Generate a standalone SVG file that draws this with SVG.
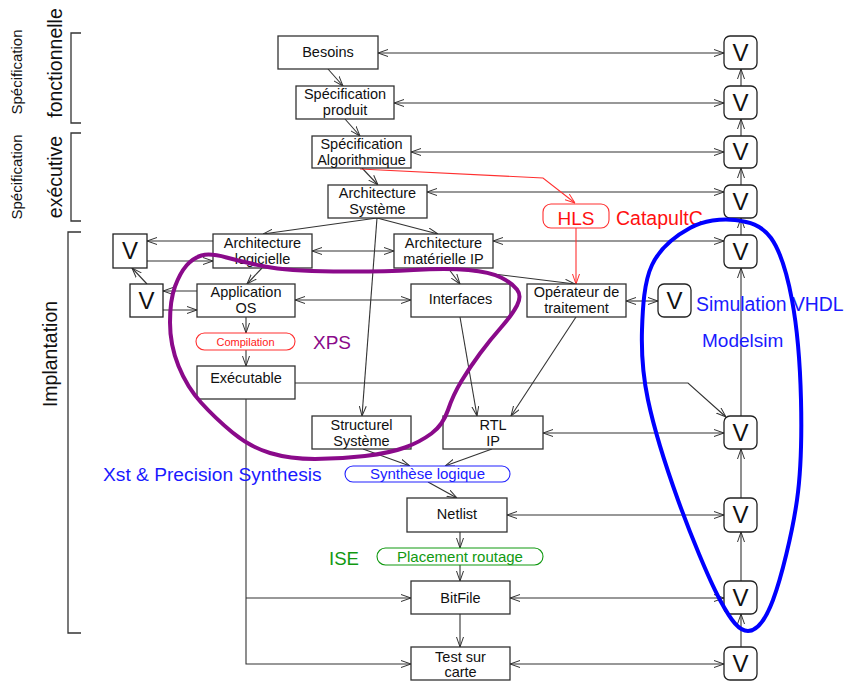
<svg xmlns="http://www.w3.org/2000/svg" width="844" height="682" viewBox="0 0 844 682">
<defs>
<marker id="ah" viewBox="0 0 10 8" refX="10" refY="4" markerWidth="10" markerHeight="8" markerUnits="userSpaceOnUse" orient="auto-start-reverse">
<path d="M0,0.5 L10,4 L0,7.5" fill="none" stroke="#333" stroke-width="1"/>
</marker>
<marker id="ahr" viewBox="0 0 10 8" refX="10" refY="4" markerWidth="10" markerHeight="8" markerUnits="userSpaceOnUse" orient="auto-start-reverse">
<path d="M0,0.5 L10,4 L0,7.5" fill="none" stroke="#ff3030" stroke-width="1"/>
</marker>
</defs>
<style>
text{font-family:"Liberation Sans",Arial,sans-serif}
.box{fill:#fff;stroke:#333;stroke-width:1.3}
.vb{fill:#fff;stroke:#222;stroke-width:1.3}
.t{font-size:14.5px;fill:#111;text-anchor:middle}
.v{font-size:24px;fill:#111;text-anchor:middle}
.c line,.c polyline,.c path{stroke:#333;stroke-width:1.1;fill:none}
.a{marker-end:url(#ah)}
.d{marker-start:url(#ah);marker-end:url(#ah)}
.red{stroke:#ff3030!important}
</style>
<rect width="844" height="682" fill="#fff"/>

<g id="labels">
<text transform="translate(22,72) rotate(-90)" style="font-size:15px;text-anchor:middle" fill="#111">Spécification</text>
<text transform="translate(62,63) rotate(-90)" style="font-size:19.5px;text-anchor:middle" fill="#111">fonctionnelle</text>
<text transform="translate(22,177) rotate(-90)" style="font-size:15px;text-anchor:middle" fill="#111">Spécification</text>
<text transform="translate(62,177) rotate(-90)" style="font-size:19.5px;text-anchor:middle" fill="#111">exécutive</text>
<text transform="translate(57,354) rotate(-90)" style="font-size:19.5px;text-anchor:middle" fill="#111">Implantation</text>
<path d="M81,33 H71 V123 H81 M81,133 H71 V221 H81 M81,232 H68 V633 H81" fill="none" stroke="#333" stroke-width="1.3"/>
</g>

<g class="c" id="connectors">
<line class="a" x1="328" y1="69" x2="343" y2="86"/>
<line class="a" x1="345" y1="119" x2="360" y2="136"/>
<line class="a" x1="362" y1="168" x2="378" y2="185"/>
<line class="a" x1="377" y1="218" x2="263" y2="234"/>
<line class="a" x1="377" y1="218" x2="438" y2="234"/>
<line class="a" x1="377" y1="218" x2="362" y2="416"/>
<line class="a" x1="262" y1="268" x2="247" y2="284"/>
<line class="a" x1="448" y1="268" x2="460" y2="284"/>
<line class="a" x1="445" y1="268" x2="575" y2="284"/>
<line class="a" x1="246" y1="317" x2="246" y2="333"/>
<line class="a" x1="246" y1="350" x2="246" y2="366"/>
<line class="a" x1="460" y1="317" x2="477" y2="416"/>
<line class="a" x1="576" y1="317" x2="511" y2="416"/>
<line class="a" x1="363" y1="449" x2="410" y2="466"/>
<line class="a" x1="492" y1="449" x2="445" y2="466"/>
<line class="a" x1="428" y1="482" x2="457" y2="498"/>
<line class="a" x1="460" y1="532" x2="460" y2="548"/>
<line class="a" x1="460" y1="565" x2="460" y2="581"/>
<line class="a" x1="460" y1="614" x2="460" y2="647"/>
<line class="d" x1="378" y1="53" x2="724" y2="53"/>
<line class="d" x1="394" y1="103" x2="724" y2="103"/>
<line class="d" x1="411" y1="152" x2="724" y2="152"/>
<line class="d" x1="427" y1="192" x2="724" y2="192"/>
<line class="d" x1="493" y1="241" x2="724" y2="241"/>
<line class="d" x1="312" y1="251" x2="394" y2="251"/>
<line class="d" x1="295" y1="300" x2="411" y2="300"/>
<line class="d" x1="626" y1="301" x2="658" y2="301"/>
<line class="d" x1="543" y1="433" x2="724" y2="433"/>
<line class="d" x1="507" y1="515" x2="724" y2="515"/>
<line class="d" x1="510" y1="598" x2="724" y2="598"/>
<line class="d" x1="510" y1="664" x2="724" y2="664"/>
<polyline class="a" points="295,383 688,383 726,417"/>
<line class="a" x1="213" y1="241" x2="147" y2="241"/>
<line class="a" x1="147" y1="261" x2="213" y2="261"/>
<line class="a" x1="197" y1="291" x2="163" y2="291"/>
<line class="a" x1="163" y1="310" x2="197" y2="310"/>
<line class="a" x1="147" y1="284" x2="132" y2="268"/>
<polyline class="a" points="246,399 246,664 411,664"/>
<line class="a" x1="246" y1="598" x2="411" y2="598"/>
<line class="a" x1="741" y1="647" x2="741" y2="614"/>
<line class="a" x1="741" y1="581" x2="741" y2="532"/>
<line class="a" x1="741" y1="498" x2="741" y2="449"/>
<line class="a" x1="741" y1="416" x2="741" y2="268"/>
<line class="a" x1="741" y1="235" x2="741" y2="218"/>
<line class="a" x1="741" y1="185" x2="741" y2="168"/>
<line class="a" x1="741" y1="136" x2="741" y2="119"/>
<line class="a" x1="741" y1="86" x2="741" y2="69"/>
<polyline class="red" style="marker-end:url(#ahr)" points="360,169 543,178 575,203"/>
<line class="red" style="marker-end:url(#ahr)" x1="576" y1="228" x2="576" y2="284"/>
</g>

<g id="besoins"><rect class="box" x="278" y="36" width="100" height="33"/><text class="t" x="328" y="57">Besoins</text></g>
<g id="spec-produit"><rect class="box" x="296" y="86" width="98" height="33"/><text class="t" x="345" y="99">Spécification</text><text class="t" x="345" y="114.5">produit</text></g>
<g id="spec-algo"><rect class="box" x="312" y="136" width="99" height="32"/><text class="t" x="361.5" y="149">Spécification</text><text class="t" x="361.5" y="164.5">Algorithmique</text></g>
<g id="arch-sys"><rect class="box" x="328" y="185" width="99" height="33"/><text class="t" x="377.5" y="198">Architecture</text><text class="t" x="377.5" y="214">Système</text></g>
<g id="arch-log"><rect class="box" x="213" y="234" width="99" height="34"/><text class="t" x="262.5" y="248">Architecture</text><text class="t" x="262.5" y="263.5">logicielle</text></g>
<g id="arch-mat"><rect class="box" x="394" y="234" width="99" height="34"/><text class="t" x="443.5" y="248">Architecture</text><text class="t" x="443.5" y="263.5">matérielle IP</text></g>
<g id="app-os"><rect class="box" x="197" y="284" width="98" height="33"/><text class="t" x="246" y="297">Application</text><text class="t" x="246" y="313">OS</text></g>
<g id="interfaces"><rect class="box" x="411" y="284" width="99" height="33"/><text class="t" x="460.5" y="304">Interfaces</text></g>
<g id="operateur"><rect class="box" x="527" y="284" width="99" height="33"/><text class="t" x="576.5" y="297">Opérateur de</text><text class="t" x="576.5" y="313">traitement</text></g>
<g id="compilation"><rect x="196" y="333" width="99" height="17" rx="8.5" fill="#fff" stroke="#ff3030" stroke-width="1.1"/><text x="245.5" y="345.5" style="font-size:11px;text-anchor:middle" fill="#ff2020">Compilation</text></g>
<g id="executable"><rect class="box" x="197" y="366" width="98" height="33"/><text class="t" x="246" y="383">Exécutable</text></g>
<g id="structurel"><rect class="box" x="312" y="416" width="99" height="33"/><text class="t" x="361.5" y="430">Structurel</text><text class="t" x="361.5" y="446">Système</text></g>
<g id="rtl"><rect class="box" x="443" y="416" width="100" height="33"/><text class="t" x="493" y="430">RTL</text><text class="t" x="493" y="446">IP</text></g>
<g id="synthese"><rect x="345" y="466" width="165" height="16" rx="8" fill="#fff" stroke="#2020ff" stroke-width="1.1"/><text x="427.5" y="479" style="font-size:15px;text-anchor:middle" fill="#2020ff">Synthèse logique</text></g>
<g id="netlist"><rect class="box" x="407" y="498" width="100" height="34"/><text class="t" x="457" y="519">Netlist</text></g>
<g id="placement"><rect x="377" y="548" width="166" height="17" rx="8.5" fill="#fff" stroke="#119911" stroke-width="1.1"/><text x="460" y="561.5" style="font-size:15px;text-anchor:middle" fill="#119911">Placement routage</text></g>
<g id="bitfile"><rect class="box" x="411" y="581" width="99" height="33"/><text class="t" x="460.5" y="603">BitFile</text></g>
<g id="test"><rect class="box" x="411" y="647" width="99" height="33"/><text class="t" x="460.5" y="662">Test sur</text><text class="t" x="460.5" y="677">carte</text></g>
<g id="hls"><rect x="543" y="204" width="66" height="24" rx="8" fill="#fff" stroke="#ff3030" stroke-width="1.1"/><text x="576" y="225" style="font-size:19px;text-anchor:middle" fill="#ff1010">HLS</text></g>

<g id="v-left1"><rect class="vb" x="113" y="234" width="34" height="34"/><text class="v" x="130" y="259">V</text></g>
<g id="v-left2"><rect class="vb" x="130" y="284" width="33" height="33"/><text class="v" x="146.5" y="309">V</text></g>
<g id="v-op"><rect class="vb" x="658" y="284" width="33" height="33" rx="6"/><text class="v" x="674.5" y="309">V</text></g>
<g id="v1"><rect class="vb" x="724" y="36" width="33" height="33" rx="6"/><text class="v" x="740.5" y="61">V</text></g>
<g id="v2"><rect class="vb" x="724" y="86" width="33" height="33" rx="6"/><text class="v" x="740.5" y="111">V</text></g>
<g id="v3"><rect class="vb" x="724" y="136" width="33" height="32" rx="6"/><text class="v" x="740.5" y="160">V</text></g>
<g id="v4"><rect class="vb" x="724" y="185" width="33" height="33" rx="6"/><text class="v" x="740.5" y="210">V</text></g>
<g id="v5"><rect class="vb" x="724" y="235" width="33" height="33" rx="6"/><text class="v" x="740.5" y="260">V</text></g>
<g id="v6"><rect class="vb" x="724" y="416" width="33" height="33" rx="6"/><text class="v" x="740.5" y="441">V</text></g>
<g id="v7"><rect class="vb" x="724" y="498" width="33" height="34" rx="6"/><text class="v" x="740.5" y="523">V</text></g>
<g id="v8"><rect class="vb" x="724" y="581" width="33" height="33" rx="6"/><text class="v" x="740.5" y="606">V</text></g>
<g id="v9"><rect class="vb" x="724" y="647" width="33" height="33" rx="6"/><text class="v" x="740.5" y="672">V</text></g>

<g id="tools">
<text x="616" y="225" style="font-size:19.5px" fill="#ff1010">CatapultC</text>
<text x="313" y="349" style="font-size:19px" fill="#8a0a8a">XPS</text>
<text x="696" y="311" style="font-size:19.4px" fill="#1a1aff">Simulation VHDL</text>
<text x="702" y="347" style="font-size:19px" fill="#1a1aff">Modelsim</text>
<text x="103" y="481" style="font-size:19.2px" fill="#1a1aff">Xst &amp; Precision Synthesis</text>
<text x="329" y="565" style="font-size:18.6px" fill="#119911">ISE</text>
</g>

<g id="regions" fill="none" stroke-width="4">
<path stroke="#0000ff" d="M735,220 C748.5,221.7 761.5,224.7 771,238 C780.5,251.3 787,273 792,300 C797,327 800.2,366.7 801,400 C801.8,433.3 801.7,466.7 797,500 C792.3,533.3 781.2,578.2 773,600 C764.8,621.8 756.8,631 748,631 C739.2,631 731.7,621.8 720,600 C708.3,578.2 690,533.3 678,500 C666,466.7 654,428.3 648,400 C642,371.7 641.3,352.5 642,330 C642.7,307.5 644,282 652,265 C660,248 676.2,235.5 690,228 C703.8,220.5 721.5,218.3 735,220 Z"/>
<path stroke="#8a0a8a" d="M201.5,255.5 Q210,253 226.5,257.5 Q243,262 265,266.5 Q287,271 333.5,271.5 Q380,272 413.5,270 Q447,268 468.5,270 Q490,272 501,277.5 Q512,283 517,289.5 Q522,296 517,305.5 Q512,315 501,327.5 Q490,340 480,353.5 Q470,367 461.5,381 Q453,395 448,410 Q443,425 431.5,433.5 Q420,442 405,447.5 Q390,453 365,456 Q340,459 315,459 Q290,459 270,453 Q250,447 232.5,432.5 Q215,418 201,402.5 Q187,387 178.5,366 Q170,345 170,322.5 Q170,300 175,286.5 Q180,273 186.5,265.5 Q193,258 201.5,255.5 Z"/>
</g>
</svg>
